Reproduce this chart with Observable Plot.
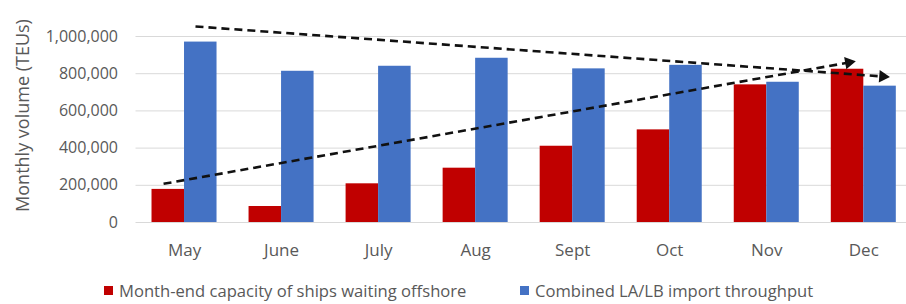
<!DOCTYPE html>
<html>
<head>
<meta charset="utf-8">
<script src="https://cdn.jsdelivr.net/npm/d3@7"></script>
<script src="https://cdn.jsdelivr.net/npm/@observablehq/plot@0.6"></script>
<style>
  html, body { margin: 0; padding: 0; background: #fff; }
  #wrap { position: relative; width: 906px; height: 304px; overflow: hidden; }
  #legend { position: absolute; left: 0; top: 275px; width: 906px; height: 29px;
            font-family: "Open Sans", sans-serif; font-size: 16.6px; color: #595959; }
  .item { position: absolute; top: 4px; display: flex; align-items: center; white-space: nowrap; }
  .sw { width: 9px; height: 9px; margin-right: 6px; }
</style>
</head>
<body>
<div id="wrap">
  <div id="chart"></div>
  <div id="legend"></div>
</div>
<script>
// ---- data ----
const months = ["May", "June", "July", "Aug", "Sept", "Oct", "Nov", "Dec"];
const waitingOffshore = [178000, 86000, 208000, 292000, 410000, 498000, 740000, 824000];
const importThroughput = [970000, 813000, 840000, 883000, 826000, 845000, 754000, 733000];
const yTicks = [0, 200000, 400000, 600000, 800000, 1000000];
const seriesNames = ["Month-end capacity of ships waiting offshore", "Combined LA/LB import throughput"];
const seriesColors = ["#C00000", "#4472C4"];
// dashed trend arrows (month index, value)
const trendStartMonth = [0.113, -0.216];
const trendStartValue = [1054000, 208000];
const trendEndMonth = [7.196, 6.845];
const trendEndValue = [785000, 860000];

// ---- layout ----
const W = 906, H = 275;
const mLeft = 135.5, mRight = 0, mTop = 36, mBottom = 53;
const xDomain = [-0.5, 7.44];
const barW = 0.335;

const bars = months.flatMap((m, i) => [
  {i, x1: i - barW, x2: i, value: waitingOffshore[i], s: seriesNames[0]},
  {i, x1: i, x2: i + barW, value: importThroughput[i], s: seriesNames[1]}
]);

const trends = trendStartMonth.map((_, k) => ({
  x1: trendStartMonth[k], y1: trendStartValue[k], x2: trendEndMonth[k], y2: trendEndValue[k]
}));

// arrowhead rotation in screen space, from the same scale definitions
const xs = d3.scaleLinear(xDomain, [mLeft, W - mRight]);
const ys = d3.scaleLinear([0, 1000000], [H - mBottom, mTop]);
trends.forEach(t => {
  const ang = Math.atan2(ys(t.y2) - ys(t.y1), xs(t.x2) - xs(t.x1)) * 180 / Math.PI;
  t.rot = ang + 90;
});

const font = '"Open Sans", sans-serif';

const chart = Plot.plot({
  width: W, height: H,
  marginLeft: mLeft, marginRight: mRight, marginTop: mTop, marginBottom: mBottom,
  style: {fontFamily: font, fontSize: "15px", color: "#595959", background: "#fff", overflow: "visible"},
  x: {type: "linear", domain: xDomain, axis: null},
  y: {domain: [0, 1000000], axis: null},
  color: {domain: seriesNames, range: seriesColors},
  marks: [
    Plot.ruleY(yTicks, {stroke: "#d9d9d9", strokeWidth: 1}),
    Plot.rectY(bars, {x1: "x1", x2: "x2", y1: 0, y2: "value", fill: "s"}),
    Plot.axisY(yTicks, {tickSize: 0, tickPadding: 18, tickFormat: d => d3.format(",")(d),
      label: null, fill: "#595959", fontSize: 16, letterSpacing: "2.2px"}),
    Plot.axisX(d3.range(months.length), {tickSize: 0, tickPadding: 21, tickFormat: i => months[i],
      label: null, fill: "#595959", fontSize: 17}),
    Plot.text(["Monthly volume (TEUs)"], {frameAnchor: "left", textAnchor: "middle", dx: -113, dy: -14,
      rotate: -90, fill: "#595959", fontSize: 18}),
    Plot.link(trends, {x1: "x1", y1: "y1", x2: "x2", y2: "y2", stroke: "#111",
      strokeWidth: 2.6, strokeDasharray: "8,5"}),
    Plot.dot(trends, {x: "x2", y: "y2", symbol: "triangle", r: 4.6, fill: "#111", stroke: "none",
      rotate: "rot"})
  ]
});
document.getElementById("chart").appendChild(chart);

// legend
const legend = document.getElementById("legend");
const lefts = [104, 520];
seriesNames.forEach((n, k) => {
  const it = document.createElement("div");
  it.className = "item";
  it.style.left = lefts[k] + "px";
  it.innerHTML = `<span class="sw" style="background:${seriesColors[k]}"></span><span>${n}</span>`;
  legend.appendChild(it);
});
</script>
</body>
</html>
